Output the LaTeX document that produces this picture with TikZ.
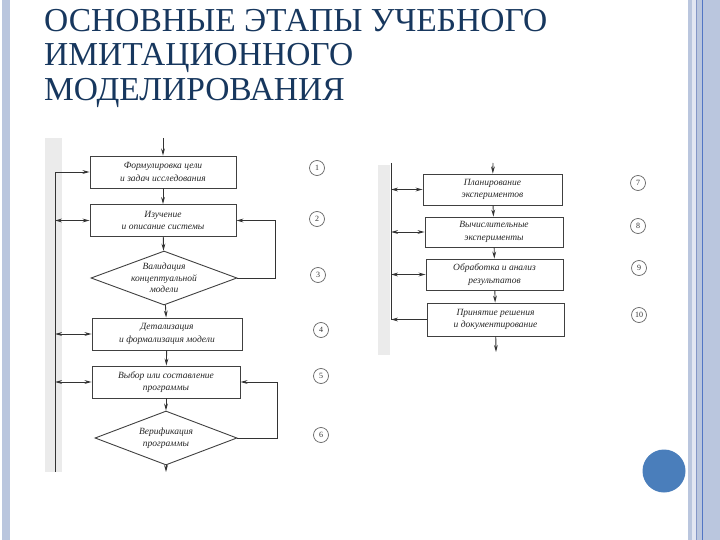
\documentclass[tikz,border=0pt]{standalone}
\usepackage{fontspec}
\setmainfont{Liberation Serif}
\usepackage{tikz}
\usetikzlibrary{positioning,arrows,arrows.meta,shapes.geometric}

\definecolor{titleblue}{RGB}{23,55,94}
\definecolor{stripe}{RGB}{186,198,222}
\definecolor{stripelight}{RGB}{226,230,242}
\definecolor{stripeline}{RGB}{132,150,198}
\definecolor{stripedark}{RGB}{82,118,196}
\definecolor{bullet}{RGB}{74,126,187}

\begin{document}
\begin{tikzpicture}[x=1pt,y=-1pt,>={Stealth[length=7pt,width=3.8pt]},
	edge/.style={draw=black!80,line width=0.9pt},
	box/.style={rectangle,draw=black!75,line width=0.9pt,minimum width=146pt,minimum height=32pt,inner sep=1pt,align=center,text=black!85,font=\itshape\fontsize{9.5}{12.5}\selectfont},
	check/.style={diamond,draw=black!75,line width=0.9pt,aspect=2.7,inner sep=-2pt,minimum width=146pt,minimum height=54pt,align=center,text=black!85,font=\itshape\fontsize{9.5}{11.5}\selectfont},
	num/.style={circle,draw=black!60,line width=0.7pt,minimum size=15pt,inner sep=0pt,text=black!80,font=\fontsize{8}{8}\selectfont}]
		\useasboundingbox (0,0) rectangle (720,540);

		%page frame
		\fill[stripe] (688,0) rectangle (720,540);
		\fill[stripelight] (692,0) rectangle (696,540);
		\draw[stripeline,line width=1.2pt] (696.5,0) -- (696.5,540);
		\draw[stripedark,line width=1.4pt] (702.5,0) -- (702.5,540);
		\fill[stripe] (2,0) rectangle (10,540);
		\fill[bullet] (664,471) circle (21.5);

		%title
		\node[anchor=north west,align=left,inner sep=0pt,text=titleblue,font=\fontsize{33.5}{34.5}\selectfont] (title) at (44,9)
			{ОСНОВНЫЕ ЭТАПЫ УЧЕБНОГО\\ИМИТАЦИОННОГО\\МОДЕЛИРОВАНИЯ};

		%scan margins
		\fill[black!8] (45,138) rectangle (62,472);
		\fill[black!8] (378,165) rectangle (390,355);

		%left nodes
		\node[box] (n1) at (163,172) {Формулировка цели\\и задач исследования};
		\node[box] (n2) at (163,220.5) {Изучение\\и описание системы};
		\node[check] (n3) at (164,278) {Валидация\\концептуальной\\модели};
		\node[box,minimum width=150pt] (n4) at (167,334) {Детализация\\и формализация модели};
		\node[box,minimum width=148pt] (n5) at (166,382) {Выбор или составление\\программы};
		\node[check,minimum width=142pt] (n6) at (166,438) {Верификация\\программы};

		%right nodes
		\node[box,minimum width=139pt,minimum height=31pt] (n7) at (492.5,189.5) {Планирование\\экспериментов};
		\node[box,minimum width=138pt,minimum height=30pt] (n8) at (494,232) {Вычислительные\\эксперименты};
		\node[box,minimum width=137pt,minimum height=31pt] (n9) at (494.5,274.5) {Обработка и анализ\\результатов};
		\node[box,minimum width=137pt,minimum height=33pt] (n10) at (495.5,319.5) {Принятие решения\\и документирование};

		%stage numbers
		\node[num] (m1) at (317,168) {1};
		\node[num] (m2) at (317,219) {2};
		\node[num] (m3) at (318,275) {3};
		\node[num] (m4) at (321,330) {4};
		\node[num] (m5) at (321,376) {5};
		\node[num] (m6) at (321,435) {6};
		\node[num] (m7) at (638,183) {7};
		\node[num] (m8) at (638,226) {8};
		\node[num] (m9) at (639,268) {9};
		\node[num] (m10) at (639,315) {10};

		%free ends
		\coordinate (t1) at (163,138);
		\coordinate (b1) at (166,472);
		\coordinate (l1) at (55,172);
		\coordinate (l2) at (55,472);
		\coordinate (t2) at (493,163);
		\coordinate (b2) at (496,352);
		\coordinate (r1) at (391,163);

		%edges
		\draw[edge,->] (t1) -- (n1);
		\draw[edge,->] (n1) -- (n2);
		\draw[edge,->] (n2) -- (n3);
		\draw[edge,->] (n3) -- (n4);
		\draw[edge,->] (n4) -- (n5);
		\draw[edge,->] (n5) -- (n6);
		\draw[edge,->] (n6) -- (b1);
		\draw[edge,->] (n3.east) -- ++(38,0) |- (n2.east);
		\draw[edge,->] (n6.east) -- ++(40,0) |- (n5.east);
		\draw[edge] (l2) -- (l1);
		\draw[edge,->] (l1) -- (n1.west);
		\draw[edge,<->] (l1 |- n2.west) -- (n2.west);
		\draw[edge,<->] (l1 |- n4.west) -- (n4.west);
		\draw[edge,<->] (l1 |- n5.west) -- (n5.west);

		\draw[edge,->] (t2) -- (n7);
		\draw[edge,->] (n7) -- (n8);
		\draw[edge,->] (n8) -- (n9);
		\draw[edge,->] (n9) -- (n10);
		\draw[edge,->] (n10) -- (b2);
		\draw[edge] (r1) -- (r1 |- n10.west);
		\draw[edge,->] (n10.west) -- (r1 |- n10.west);
		\draw[edge,<->] (r1 |- n7.west) -- (n7.west);
		\draw[edge,<->] (r1 |- n8.west) -- (n8.west);
		\draw[edge,<->] (r1 |- n9.west) -- (n9.west);
	\end{tikzpicture}
\end{document}
